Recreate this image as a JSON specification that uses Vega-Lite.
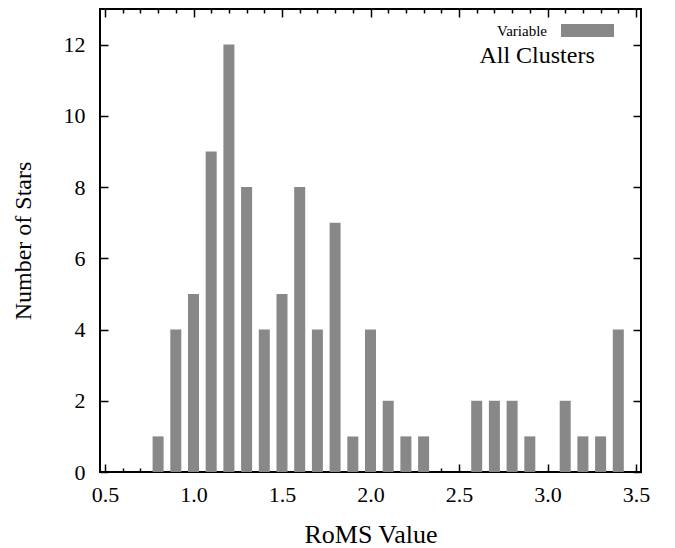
{
  "$schema": "https://vega.github.io/schema/vega-lite/v6.json",
  "width": 541,
  "height": 463,
  "autosize": "none",
  "padding": {"left": 100, "top": 9, "right": 34, "bottom": 76},
  "background": "white",
  "title": {
    "text": "All Clusters",
    "orient": "top",
    "anchor": "end",
    "offset": -55,
    "dx": -55,
    "dy": 28,
    "baseline": "alphabetic",
    "font": "Liberation Serif",
    "fontSize": 24,
    "fontWeight": "normal",
    "color": "black"
  },
  "config": {
    "view": {"stroke": "black", "strokeWidth": 2},
    "font": "Liberation Serif",
    "axis": {
      "domain": false,
      "grid": false,
      "labelFont": "Liberation Serif",
      "labelFontSize": 22,
      "labelColor": "black",
      "titleFont": "Liberation Serif",
      "titleFontSize": 26,
      "titleFontWeight": "normal",
      "titleColor": "black",
      "tickColor": "black",
      "tickWidth": 1.5
    }
  },
  "data": {
    "values": [
      {"roms": 0.8, "count": 1, "series": "Variable"},
      {"roms": 0.9, "count": 4, "series": "Variable"},
      {"roms": 1.0, "count": 5, "series": "Variable"},
      {"roms": 1.1, "count": 9, "series": "Variable"},
      {"roms": 1.2, "count": 12, "series": "Variable"},
      {"roms": 1.3, "count": 8, "series": "Variable"},
      {"roms": 1.4, "count": 4, "series": "Variable"},
      {"roms": 1.5, "count": 5, "series": "Variable"},
      {"roms": 1.6, "count": 8, "series": "Variable"},
      {"roms": 1.7, "count": 4, "series": "Variable"},
      {"roms": 1.8, "count": 7, "series": "Variable"},
      {"roms": 1.9, "count": 1, "series": "Variable"},
      {"roms": 2.0, "count": 4, "series": "Variable"},
      {"roms": 2.1, "count": 2, "series": "Variable"},
      {"roms": 2.2, "count": 1, "series": "Variable"},
      {"roms": 2.3, "count": 1, "series": "Variable"},
      {"roms": 2.6, "count": 2, "series": "Variable"},
      {"roms": 2.7, "count": 2, "series": "Variable"},
      {"roms": 2.8, "count": 2, "series": "Variable"},
      {"roms": 2.9, "count": 1, "series": "Variable"},
      {"roms": 3.1, "count": 2, "series": "Variable"},
      {"roms": 3.2, "count": 1, "series": "Variable"},
      {"roms": 3.3, "count": 1, "series": "Variable"},
      {"roms": 3.4, "count": 4, "series": "Variable"}
    ]
  },
  "resolve": {"axis": {"x": "independent", "y": "independent"}},
  "layer": [
    {
      "mark": {"type": "bar", "opacity": 0},
      "encoding": {
        "x": {"field": "roms", "type": "quantitative", "scale": {"domain": [0.5, 3.5], "nice": false, "zero": false},
          "axis": {"orient": "bottom", "values": [0.6, 0.7, 0.8, 0.9, 1.1, 1.2, 1.3, 1.4, 1.6, 1.7, 1.8, 1.9, 2.1, 2.2, 2.3, 2.4, 2.6, 2.7, 2.8, 2.9, 3.1, 3.2, 3.3, 3.4], "labels": false, "tickSize": -4, "title": null}},
        "y": {"field": "count", "type": "quantitative", "scale": {"domain": [0, 13], "nice": false}, "axis": null}
      }
    },
    {
      "mark": {"type": "bar", "opacity": 0},
      "encoding": {
        "x": {"field": "roms", "type": "quantitative",
          "axis": {"orient": "top", "values": [0.6, 0.7, 0.8, 0.9, 1.1, 1.2, 1.3, 1.4, 1.6, 1.7, 1.8, 1.9, 2.1, 2.2, 2.3, 2.4, 2.6, 2.7, 2.8, 2.9, 3.1, 3.2, 3.3, 3.4], "labels": false, "tickSize": -4, "title": null}},
        "y": {"field": "count", "type": "quantitative", "axis": null}
      }
    },
    {
      "mark": {"type": "bar", "opacity": 0},
      "encoding": {
        "x": {"field": "roms", "type": "quantitative",
          "axis": {"orient": "top", "values": [0.5, 1.0, 1.5, 2.0, 2.5, 3.0, 3.5], "labels": false, "tickSize": -8, "title": null}},
        "y": {"field": "count", "type": "quantitative",
          "axis": {"orient": "right", "values": [0, 2, 4, 6, 8, 10, 12], "labels": false, "tickSize": -8, "title": null}}
      }
    },
    {
      "mark": {"type": "bar", "color": "#888888", "size": 11},
      "encoding": {
        "x": {"field": "roms", "type": "quantitative",
          "axis": {"orient": "bottom", "values": [0.5, 1.0, 1.5, 2.0, 2.5, 3.0, 3.5], "format": ".1f", "tickSize": -8, "labelPadding": 20, "title": "RoMS Value", "titlePadding": 16}},
        "y": {"field": "count", "type": "quantitative",
          "axis": {"orient": "left", "values": [0, 2, 4, 6, 8, 10, 12], "tickSize": -8, "labelPadding": 23, "title": "Number of Stars", "titleFontSize": 24, "titlePadding": 28}},
        "color": {"field": "series", "type": "nominal", "scale": {"range": ["#888888"]},
          "legend": {
            "orient": "none",
            "legendX": 461,
            "legendY": -5,
            "title": null,
            "symbolType": "M-1,-0.245H1V0.245H-1Z",
            "symbolSize": 2809,
            "symbolStrokeWidth": 0,
            "symbolOpacity": 1,
            "labelFont": "Liberation Serif",
            "labelFontSize": 15,
            "labelColor": "black",
            "labelAlign": "right",
            "labelOffset": -67
          }}
      }
    }
  ]
}
